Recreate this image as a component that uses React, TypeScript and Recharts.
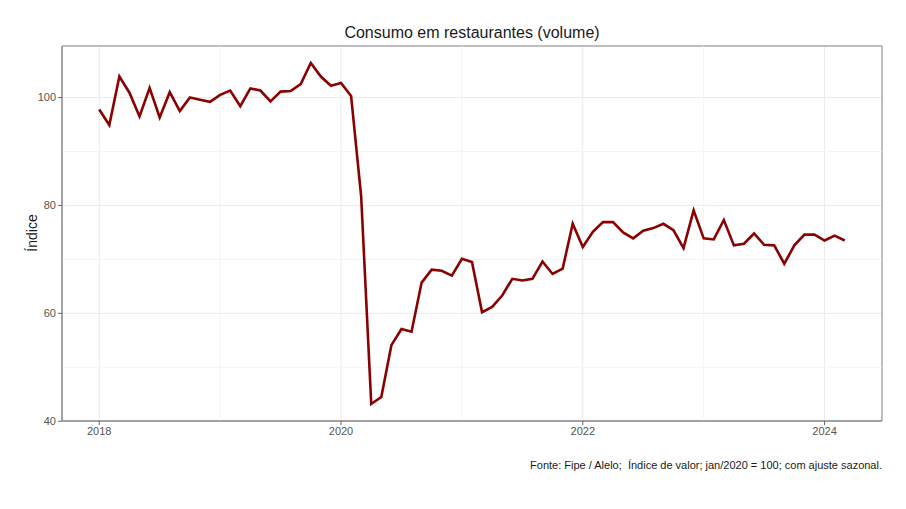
import React from 'react'
import { LineChart, Line, XAxis, YAxis, CartesianGrid, ReferenceLine, ReferenceArea } from 'recharts'

// monthly index, jan/2018 .. mar/2024
const START_YEAR = 2018
const values = [
    97.8, 94.9, 103.9, 100.9, 96.5, 101.8, 96.3, 101.0, 97.5, 100.0, 99.6, 99.2,
    100.5, 101.3, 98.4, 101.7, 101.3, 99.3, 101.1, 101.2, 102.5, 106.4, 103.9, 102.2,
    102.7, 100.3, 81.7, 43.2, 44.5, 54.1, 57.1, 56.6, 65.7, 68.1, 67.9, 67.0,
    70.1, 69.5, 60.2, 61.2, 63.3, 66.4, 66.1, 66.4, 69.6, 67.3, 68.3, 76.6,
    72.3, 75.1, 76.9, 76.9, 75.0, 73.9, 75.3, 75.8, 76.6, 75.4, 72.1, 79.1,
    73.9, 73.7, 77.3, 72.6, 72.9, 74.8, 72.7, 72.6, 69.2, 72.6, 74.6, 74.6,
    73.5, 74.4, 73.5,
]
const xTicks = [2018, 2020, 2022, 2024]
const xMinor = [2019, 2021, 2023]
const yTicks = [40, 60, 80, 100]
const yMinor = [50, 70, 90]

const data = values.map((v, i) => ({ t: START_YEAR + i / 12, v }))

const X_DOMAIN: [number, number] = [2017.692, 2024.475]
const Y_DOMAIN: [number, number] = [40.04, 109.56]

const font = '"Liberation Sans", Arial, sans-serif'
const tickStyle = { fontSize: 11, fill: '#555555', fontFamily: font }

export default function App() {
    return (
        <div style={{ position: 'relative', width: 906, height: 509, background: '#fff', fontFamily: font }}>
            <style>{'body{margin:0}'}</style>
            <div style={{ position: 'absolute', left: 62, width: 820, top: 24, textAlign: 'center', fontSize: 16, color: '#1a1a1a' }}>
                Consumo em restaurantes (volume)
            </div>
            <div style={{ position: 'absolute', left: 32, top: 233, transform: 'translate(-50%, -50%) rotate(-90deg)', fontSize: 14, color: '#1a1a1a' }}>
                Índice
            </div>
            <LineChart width={906} height={509} data={data} margin={{ top: 46, right: 24, bottom: 58, left: 22 }}>
                <CartesianGrid stroke="#ebebeb" strokeWidth={1} />
                {xMinor.map(x => (
                    <ReferenceLine key={`xm-${x}`} x={x} stroke="#f4f4f4" strokeWidth={1} />
                ))}
                {yMinor.map(y => (
                    <ReferenceLine key={`ym-${y}`} y={y} stroke="#f4f4f4" strokeWidth={1} />
                ))}
                <XAxis
                    dataKey="t"
                    type="number"
                    domain={X_DOMAIN}
                    ticks={xTicks}
                    allowDataOverflow
                    height={30}
                    tick={tickStyle}
                    tickSize={4}
                    tickLine={{ stroke: '#666' }}
                    axisLine={{ stroke: '#888' }}
                />
                <YAxis
                    type="number"
                    domain={Y_DOMAIN}
                    ticks={yTicks}
                    allowDataOverflow
                    width={40}
                    tick={tickStyle}
                    tickSize={4}
                    tickLine={{ stroke: '#666' }}
                    axisLine={{ stroke: '#888' }}
                />
                <ReferenceArea x1={X_DOMAIN[0]} x2={X_DOMAIN[1]} y1={Y_DOMAIN[0]} y2={Y_DOMAIN[1]} fill="none" stroke="#888" strokeWidth={1} />
                <Line type="linear" dataKey="v" stroke="#8b0000" strokeWidth={2.6} dot={false} isAnimationActive={false} />
            </LineChart>
            <div style={{ position: 'absolute', right: 24, top: 459, fontSize: 11, color: '#1a1a1a', whiteSpace: 'pre' }}>
                {'Fonte: Fipe / Alelo;  Índice de valor; jan/2020 = 100; com ajuste sazonal.'}
            </div>
        </div>
    )
}
